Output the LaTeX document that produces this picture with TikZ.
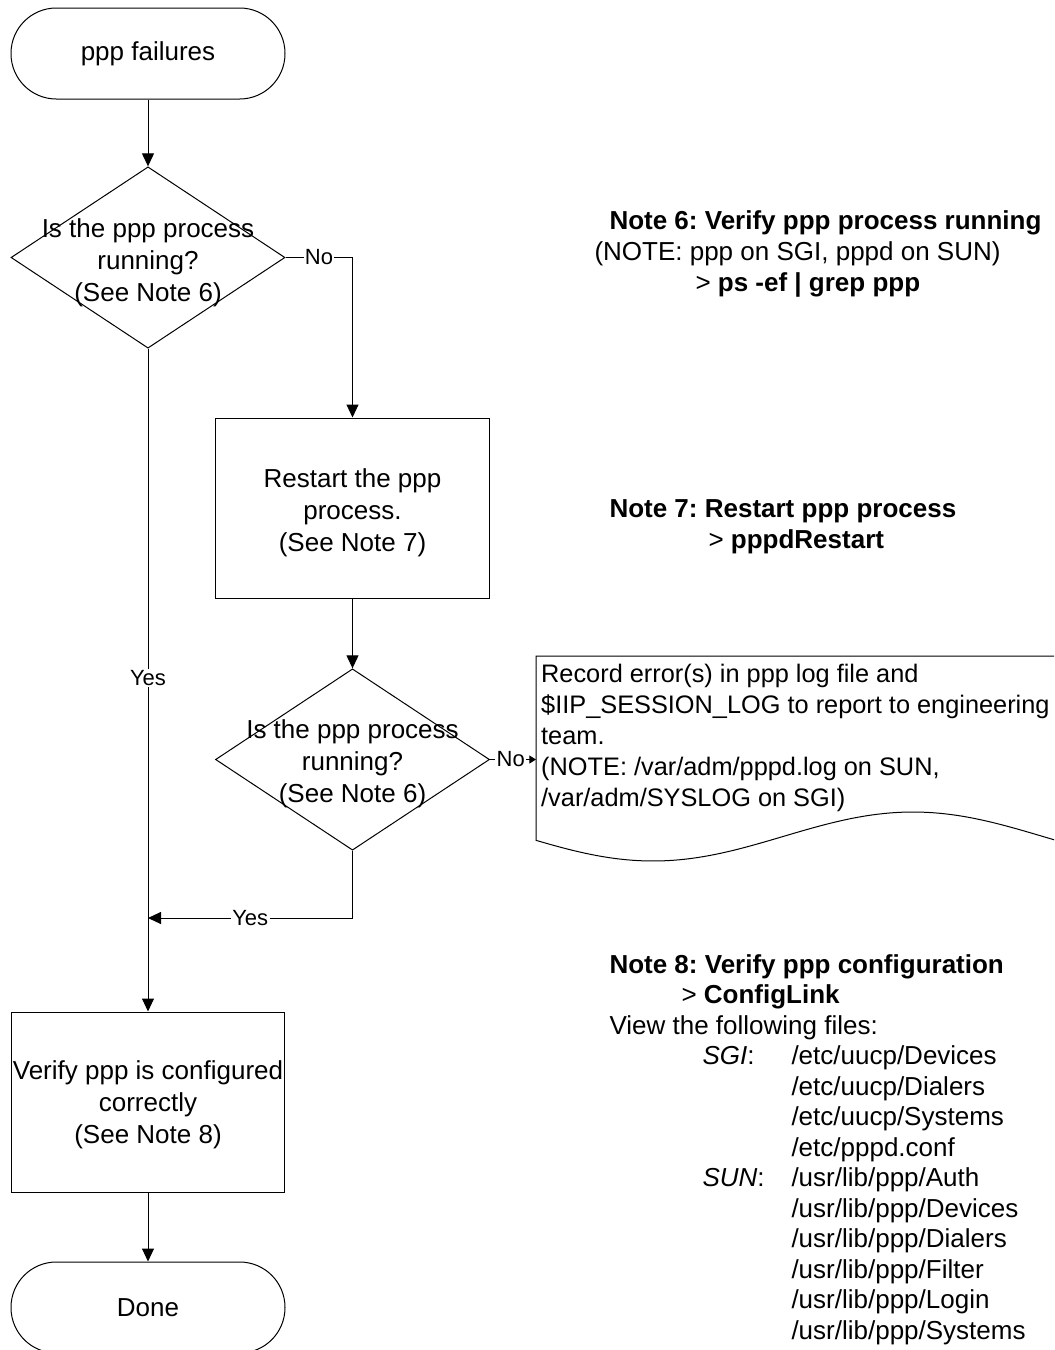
\documentclass[tikz,border=0pt]{standalone}
\usepackage{fontspec}
\setmainfont{Liberation Sans}
\usetikzlibrary{shapes.geometric,arrows.meta}

\newcommand\mainfs{\fontsize{19.5}{24}\selectfont}
\newcommand\notefs{\fontsize{19.5}{23.25}\selectfont}
\newcommand\docfs{\fontsize{19}{23.25}\selectfont}
\newcommand\lblfs{\fontsize{16.5}{19}\selectfont}

\tikzset{
  term/.style={draw, rectangle, rounded corners=34pt, minimum width=205.5pt,
    minimum height=68.25pt, inner sep=0pt, align=center, font=\mainfs},
  decision/.style={draw, diamond, minimum width=205.5pt, minimum height=136pt,
    inner sep=0pt},
  proc/.style={draw, rectangle, minimum width=205pt, minimum height=135pt,
    inner sep=0pt},
  shapetext/.style={align=center, inner sep=0pt, font=\mainfs},
  arr/.style={-{Triangle[length=9.75pt,width=9pt]}},
  tinyarr/.style={-{Triangle[length=5pt,width=6pt]}},
  lbl/.style={fill=white, inner sep=1pt, font=\lblfs},
  noteline/.style={anchor=base west, inner sep=0pt, font=\notefs},
}

\begin{document}
\frenchspacing
\begin{tikzpicture}[x=0.75pt, y=-0.75pt, line width=0.75pt]
\useasboundingbox (0,0) rectangle (1054,1350);
\clip (0,0) rectangle (1054,1350);

% flow chart column
\node[term] (start) at (148,53.5) {ppp failures};
\node[decision] (d1) at (148,257.5) {};
\node[shapetext] (d1t) at (148,263) {Is the ppp process\\running?\\(See Note 6)};
\node[proc] (b2) at (352.5,508) {};
\node[shapetext] (b2t) at (352.5,513) {Restart the ppp\\process.\\(See Note 7)};
\node[decision] (d2) at (352.5,759.5) {};
\node[shapetext] (d2t) at (352.5,764) {Is the ppp process\\running?\\(See Note 6)};
\node[proc] (b3) at (148,1102) {};
\node[shapetext] (b3t) at (148,1105) {Verify ppp is configured\\correctly\\(See Note 8)};
\node[term] (done) at (148,1307.5) {Done};

% error record (document shape)
\coordinate (docL) at (536,656);
\draw (1070,656) -- (docL) -- (536,840)
  -- plot[domain=536:1070, samples=90] (\x, {836.5 + 24.5*cos((\x-653)/260*180)});
\node[anchor=base west, inner sep=0pt, align=left, font=\docfs] (doc) at (540.7,806)
  {Record error(s) in ppp log file and\\
   \$IIP\_SESSION\_LOG to report to engineering\\
   team.\\
   (NOTE: /var/adm/pppd.log on SUN,\\
   /var/adm/SYSLOG on SGI)};

% connectors
\coordinate (join) at (148,918);
\draw[arr] (start) -- (d1);
\draw[arr] (d1.east) -| (b2.north) node[lbl, pos=0.25] {No};
\draw[arr] (d1.south) -- (b3.north) node[lbl, pos=0.497] {Yes};
\draw[arr] (b2) -- (d2);
\draw[tinyarr] (d2.east) -- (d2.east -| docL) node[lbl, pos=0.45] {No};
\draw[arr] (d2.south) |- (join) node[lbl, pos=0.75] {Yes};
\draw[arr] (b3) -- (done);

% notes
\node[noteline] (n6a) at (609,229) {\textbf{Note 6: Verify ppp process running}};
\node[noteline] (n6b) at (594,260) {(NOTE: ppp on SGI, pppd on SUN)};
\node[noteline] (n6c) at (695,291) {> \textbf{ps -ef | grep ppp}};

\node[noteline] (n7a) at (609,517) {\textbf{Note 7: Restart ppp process}};
\node[noteline] (n7b) at (708,548) {> \textbf{pppdRestart}};

\node[noteline] (n8a) at (609,973) {\textbf{Note 8: Verify ppp configuration}};
\node[noteline] (n8b) at (681,1003.5) {> \textbf{ConfigLink}};
\node[noteline] (n8c) at (609,1034) {View the following files:};
\node[noteline] (sgi) at (702,1064.5) {\textit{SGI}:};
\node[noteline] (sun) at (702,1186.5) {\textit{SUN}:};
\foreach \f [count=\i] in {/etc/uucp/Devices, /etc/uucp/Dialers, /etc/uucp/Systems,
    /etc/pppd.conf, /usr/lib/ppp/Auth, /usr/lib/ppp/Devices, /usr/lib/ppp/Dialers,
    /usr/lib/ppp/Filter, /usr/lib/ppp/Login, /usr/lib/ppp/Systems}
  \node[noteline] (f\i) at (791,{1064.5+30.5*(\i-1)}) {\f};
\end{tikzpicture}
\end{document}
